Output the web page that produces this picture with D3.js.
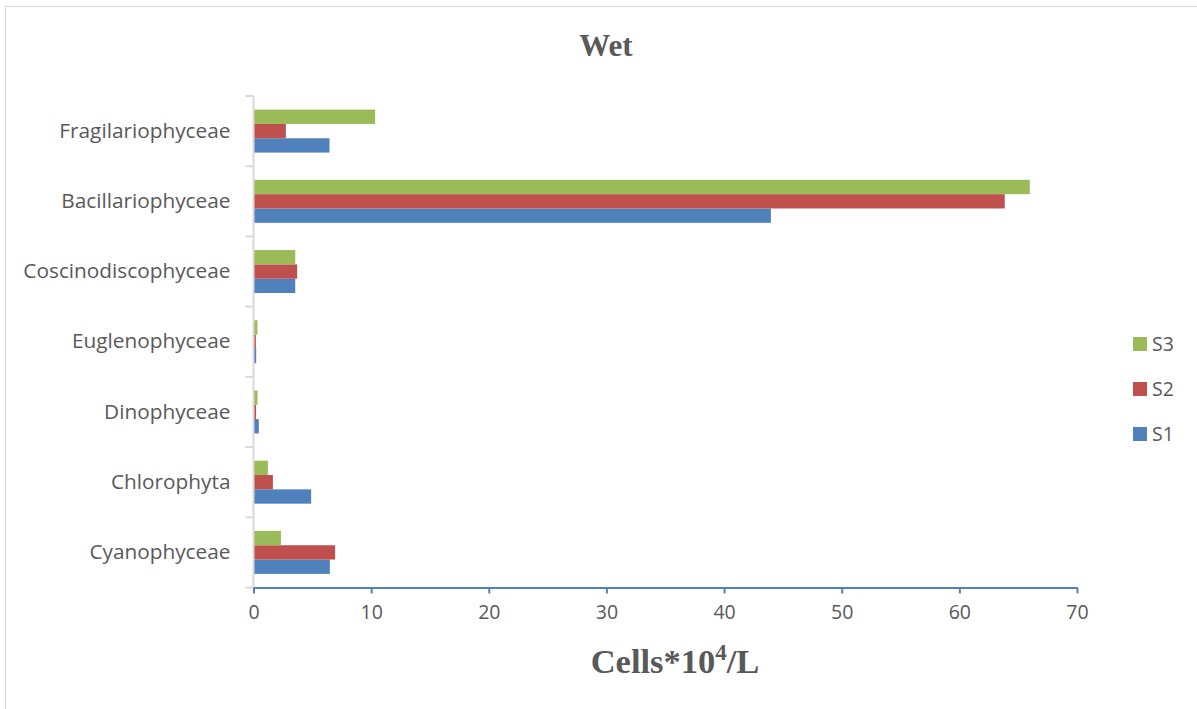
<!DOCTYPE html>
<html><head><meta charset="utf-8">
<script src="https://cdn.jsdelivr.net/npm/d3@7/dist/d3.min.js"></script>
<style>body{margin:0;background:#fff}svg{display:block}</style>
</head><body>
<svg id="c" width="1197" height="709"></svg>
<script>
const categories = ["Cyanophyceae","Chlorophyta","Dinophyceae","Euglenophyceae","Coscinodiscophyceae","Bacillariophyceae","Fragilariophyceae"];
const seriesNames = ["S1","S2","S3"];
const S1 = [6.49, 4.9, 0.45, 0.23, 3.55, 43.98, 6.46];
const S2 = [6.94, 1.65, 0.22, 0.2, 3.71, 63.86, 2.75];
const S3 = [2.33, 1.22, 0.34, 0.34, 3.55, 65.99, 10.34];
const xTicks = [0,10,20,30,40,50,60,70];
const colors = {S1:"#4f81bd", S2:"#c0504d", S3:"#9bbb59"};
const values = {S1, S2, S3};
const sans = "'Open Sans', 'Noto Sans', sans-serif";
const serif = "'Liberation Serif','Times New Roman',serif";

const svg = d3.select("#c");
// partial frame
svg.append("line").attr("x1",5).attr("x2",1197).attr("y1",6.5).attr("y2",6.5).attr("stroke","#d9d9d9").attr("stroke-width",1.2);
svg.append("line").attr("x1",5.5).attr("x2",5.5).attr("y1",6).attr("y2",709).attr("stroke","#d9d9d9").attr("stroke-width",1.2);

const L = 253.5, R = 1077, T = 96, B = 587.5;
const x = d3.scaleLinear().domain([0,70]).range([L,R]);
const y = d3.scaleBand().domain(categories.slice().reverse()).range([T,B]);
const inner = d3.scaleBand().domain(["S3","S2","S1"]).range([0, y.bandwidth()]).paddingOuter(0.95).paddingInner(0);

// bars
categories.forEach((c,i)=>{
  const g = svg.append("g").attr("transform",`translate(0,${y(c)})`);
  seriesNames.forEach(s=>{
    g.append("rect").attr("x",x(0)).attr("y",inner(s)).attr("width",x(values[s][i])-x(0)).attr("height",inner.bandwidth()).attr("fill",colors[s]);
  });
});

// y axis
const ya = svg.append("g").attr("transform",`translate(${L},0)`).call(d3.axisLeft(y).tickSize(0).tickPadding(23));
ya.select(".domain").remove();
ya.selectAll("text").attr("font-family",sans).attr("font-size",20.8).attr("fill","#595959");
svg.append("line").attr("x1",L).attr("x2",L).attr("y1",T).attr("y2",B).attr("stroke","#d9d9d9").attr("stroke-width",2);
const bounds = categories.map(c=>y(c)).concat([B]);
svg.selectAll(".yt").data(bounds).enter().append("line").attr("x1",L-8).attr("x2",L).attr("y1",d=>d).attr("y2",d=>d).attr("stroke","#d9d9d9").attr("stroke-width",2);

// x axis
const xa = svg.append("g").attr("transform",`translate(0,${B})`).call(d3.axisBottom(x).tickValues(xTicks).tickSize(6).tickPadding(12).tickSizeOuter(0));
xa.select(".domain").attr("stroke","#4f81bd").attr("stroke-width",2);
xa.selectAll(".tick line").attr("stroke","#4f81bd").attr("stroke-width",2);
xa.selectAll("text").attr("font-family",sans).attr("font-size",19.5).attr("fill","#595959");

// title
svg.append("text").attr("x",606).attr("y",56).attr("text-anchor","middle").attr("font-family",serif).attr("font-weight","bold").attr("font-size",31).attr("fill","#595959").text("Wet");
// axis title
const at = svg.append("text").attr("x",675).attr("y",673).attr("text-anchor","middle").attr("font-family",serif).attr("font-weight","bold").attr("font-size",34.5).attr("fill","#595959");
at.append("tspan").text("Cells*10");
at.append("tspan").attr("font-size",23).attr("dy",-13).text("4");
at.append("tspan").attr("dy",13).text("/L");

// legend
const leg = [["S3",344],["S2",389],["S1",434]];
leg.forEach(([s,yy])=>{
  svg.append("rect").attr("x",1133).attr("y",yy-7).attr("width",14).attr("height",14).attr("fill",colors[s]);
  svg.append("text").attr("x",1152).attr("y",yy+7).attr("font-family",sans).attr("font-size",19.5).attr("fill","#595959").text(s);
});
</script>
</body></html>
